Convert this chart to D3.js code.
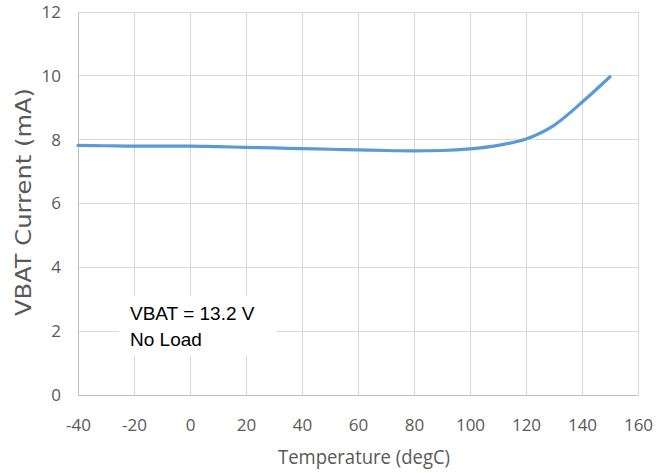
<!DOCTYPE html>
<html><head><meta charset="utf-8">
<script src="https://cdn.jsdelivr.net/npm/d3@7"></script>
<style>body{margin:0;background:#fff}svg{display:block}</style>
</head><body>
<script>
const temps = [-40,-30,-20,-10,0,10,20,30,40,50,60,70,80,90,100,110,120,130,140,150];
const current = [7.82,7.81,7.80,7.80,7.80,7.78,7.76,7.74,7.72,7.70,7.68,7.66,7.65,7.66,7.71,7.82,8.02,8.45,9.17,9.97];
const xTicks = [-40,-20,0,20,40,60,80,100,120,140,160];
const yTicks = [0,2,4,6,8,10,12];
const annotation = ["VBAT = 13.2 V","No Load"];

const W=668,H=473;
const svg=d3.select("body").append("svg").attr("width",W).attr("height",H);
const x=d3.scaleLinear().domain([-40,160]).range([78,638]);
const y=d3.scaleLinear().domain([0,12]).range([395,12]);
const tickFont='"Open Sans", sans-serif';
const grid="#d9d9d9";
const fmt=d=>String(d);

// gridlines
svg.append("g").selectAll("line").data(yTicks).join("line")
  .attr("x1",x(-40)).attr("x2",x(160)).attr("y1",d=>y(d)).attr("y2",d=>y(d))
  .attr("stroke",grid).attr("stroke-width",1).attr("shape-rendering","crispEdges");
svg.append("g").selectAll("line").data(xTicks).join("line")
  .attr("x1",d=>x(d)).attr("x2",d=>x(d)).attr("y1",y(0)).attr("y2",y(12))
  .attr("stroke",grid).attr("stroke-width",1).attr("shape-rendering","crispEdges");

// axes
const xa=svg.append("g").attr("transform",`translate(0,${y(0)})`)
  .call(d3.axisBottom(x).tickValues(xTicks).tickSize(0).tickPadding(24).tickFormat(fmt));
xa.select(".domain").attr("stroke","#bfbfbf");
xa.selectAll("text").attr("font-family",tickFont).attr("font-size",17).attr("fill","#595959");
const ya=svg.append("g").attr("transform",`translate(${x(-40)},0)`)
  .call(d3.axisLeft(y).tickValues(yTicks).tickSize(0).tickPadding(17).tickFormat(fmt));
ya.select(".domain").attr("stroke","#bfbfbf");
ya.selectAll("text").attr("font-family",tickFont).attr("font-size",17).attr("fill","#595959");

// annotation box
svg.append("rect").attr("x",119).attr("y",296).attr("width",158).attr("height",60).attr("fill","#fff");
svg.append("g").selectAll("text").data(annotation).join("text")
  .attr("x",130).attr("y",(d,i)=>320+i*26)
  .attr("font-family",'"Liberation Sans", Arial, sans-serif').attr("font-size",19).attr("fill","#000")
  .text(d=>d);

// line
const pts=temps.map((t,i)=>[t,current[i]]);
svg.append("path").datum(pts)
  .attr("d",d3.line().x(d=>x(d[0])).y(d=>y(d[1])).curve(d3.curveMonotoneX))
  .attr("fill","none").attr("stroke","#5b9bd5").attr("stroke-width",3.2).attr("stroke-linecap","round");

// titles
svg.append("text").attr("x",364).attr("y",464).attr("text-anchor","middle")
  .attr("font-family",tickFont).attr("font-size",20).attr("fill","#595959")
  .attr("textLength",172).attr("lengthAdjust","spacingAndGlyphs").text("Temperature (degC)");
svg.append("text").attr("transform","translate(31,202) rotate(-90)").attr("text-anchor","middle")
  .attr("font-family",'"DejaVu Sans", Verdana, sans-serif').attr("font-size",21).attr("fill","#595959")
  .attr("textLength",228).attr("lengthAdjust","spacingAndGlyphs").text("VBAT Current (mA)");
</script>
</body></html>
